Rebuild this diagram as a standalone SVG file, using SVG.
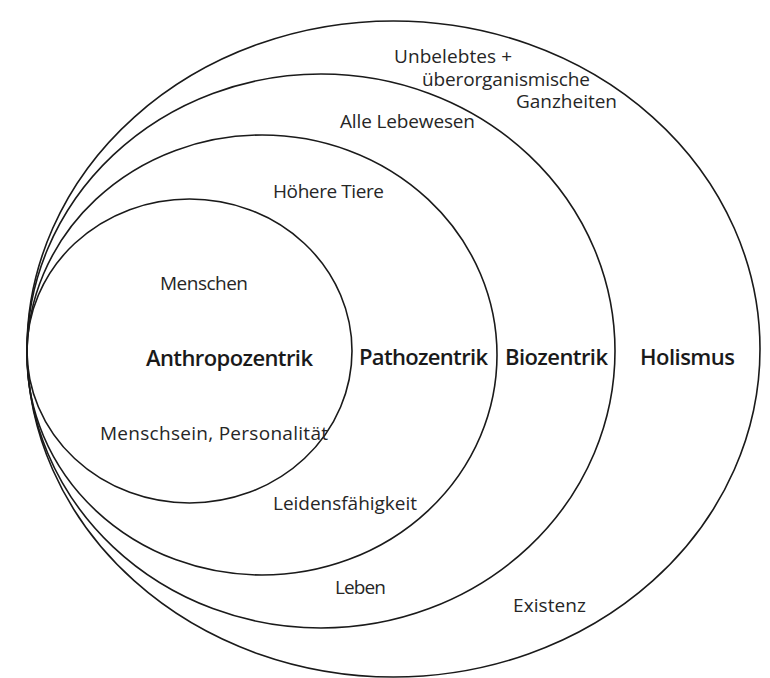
<svg xmlns="http://www.w3.org/2000/svg" width="770" height="678" viewBox="0 0 770 678">
<style>
.ring{fill:none;stroke:#1a1a1a;stroke-width:1.6}
.lbl{font-family:"Open Sans","Noto Sans",sans-serif;font-size:19px;fill:#262626}
.big{font-family:"Open Sans","Noto Sans",sans-serif;font-size:22px;font-weight:600;fill:#1a1a1a}
</style>
<rect width="770" height="678" fill="#ffffff"/>
<g id="holismus">
<ellipse class="ring" cx="393.5" cy="349" rx="366.5" ry="328"/>
<text class="big" x="640" y="365" textLength="95">Holismus</text>
<text class="lbl" x="394" y="63" textLength="118">Unbelebtes +</text>
<text class="lbl" x="422" y="86" textLength="168">überorganismische</text>
<text class="lbl" x="516" y="108" textLength="101">Ganzheiten</text>
<text class="lbl" x="513" y="612" textLength="73">Existenz</text>
</g>
<g id="biozentrik">
<ellipse class="ring" cx="321" cy="351" rx="294" ry="277"/>
<text class="big" x="505" y="365" textLength="103">Biozentrik</text>
<text class="lbl" x="340" y="128" textLength="135">Alle Lebewesen</text>
<text class="lbl" x="335" y="594" textLength="51">Leben</text>
</g>
<g id="pathozentrik">
<ellipse class="ring" cx="262" cy="355" rx="235" ry="220"/>
<text class="big" x="359" y="365" textLength="129">Pathozentrik</text>
<text class="lbl" x="273" y="198" textLength="111">Höhere Tiere</text>
<text class="lbl" x="273" y="510" textLength="144">Leidensfähigkeit</text>
</g>
<g id="anthropozentrik">
<ellipse class="ring" cx="189.5" cy="351" rx="162.5" ry="152"/>
<text class="big" x="146" y="366" textLength="167">Anthropozentrik</text>
<text class="lbl" x="160" y="290" textLength="88">Menschen</text>
<text class="lbl" x="100" y="440" textLength="228">Menschsein, Personalität</text>
</g>
<g id="connectors"/>
</svg>
